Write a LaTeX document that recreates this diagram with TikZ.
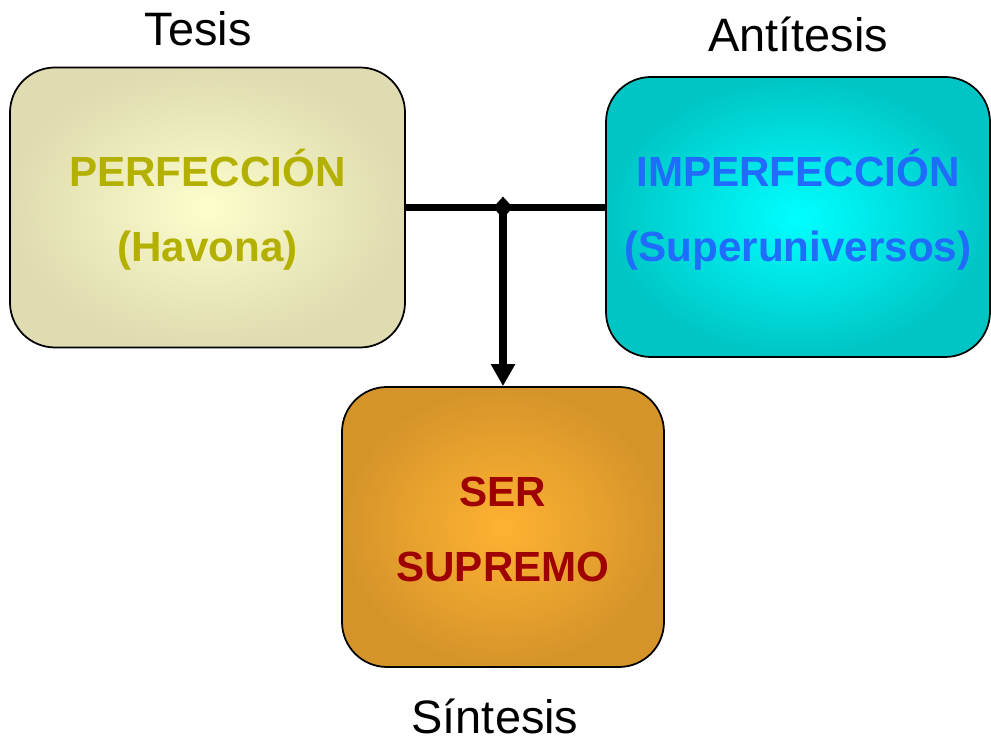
\documentclass[tikz,border=0pt]{standalone}
\usepackage{fontspec}
\setmainfont{Liberation Sans}
\usetikzlibrary{positioning,shapes.geometric,arrows.meta}

\definecolor{tesisin}{HTML}{FEFDCC}
\definecolor{tesisout}{HTML}{DEDCB0}
\definecolor{tesistext}{HTML}{B4B000}
\definecolor{antiin}{HTML}{00FFFF}
\definecolor{antiout}{HTML}{00C5C5}
\definecolor{antitext}{HTML}{1F6CFF}
\definecolor{sinin}{HTML}{FFB232}
\definecolor{sinout}{HTML}{D5942A}
\definecolor{sintext}{HTML}{9E0000}

\begin{document}
\begin{tikzpicture}[
      box/.style={draw=black, line width=1pt, rounded corners=0.9cm,
        minimum height=5.6cm, align=center, shading=radial,
        text height=2.5cm, text depth=0.32cm,
        font=\bfseries\fontsize{24}{43.1}\selectfont},
      tesis/.style={inner color=tesisin, outer color=tesisout, text=tesistext},
      anti/.style={inner color=antiin, outer color=antiout, text=antitext},
      sin/.style={inner color=sinin, outer color=sinout, text=sintext},
      tag/.style={inner sep=0pt, font=\fontsize{26.7}{32}\selectfont},
      joint/.style={diamond, fill=black, inner sep=0pt,
        minimum width=0.4cm, minimum height=0.44cm},
      link/.style={line width=4.4pt}
    ]
      \useasboundingbox (0,0) rectangle (19.82,-14.82);

      % The three boxes
      \node[box, tesis, minimum width=7.9cm]
        (perf)
        at
        (4.15,-4.15)
        {PERFECCIÓN \\ (Havona)};

      \node[box, anti, minimum width=7.68cm, text height=2.12cm]
        (imp)
        at
        (15.96,-4.34)
        {IMPERFECCIÓN \\ (Superuniversos)};

      \node[box, sin, minimum width=6.44cm, text height=2.52cm]
        (ser)
        at
        (10.06,-10.54)
        {SER \\ SUPREMO};

      % Captions
      \node[tag, above=0.4cm of perf, xshift=-0.19cm] (tesislbl) {Tesis};
      \node[tag, above=0.48cm of imp] (antilbl) {Antítesis};
      \node[tag, below=0.62cm of ser, xshift=-0.16cm] (sinlbl) {Síntesis};

      % Connector between thesis and antithesis, and arrow to synthesis
      \draw[link] (perf.east) -- (perf.east -| imp.west);
      \node[joint] (jn) at (perf.east -| ser.north) {};
      \draw[link, line width=4pt, -{Triangle[length=0.44cm, width=0.46cm]}]
        (jn.center) -- (ser.north);
    \end{tikzpicture}
\end{document}
